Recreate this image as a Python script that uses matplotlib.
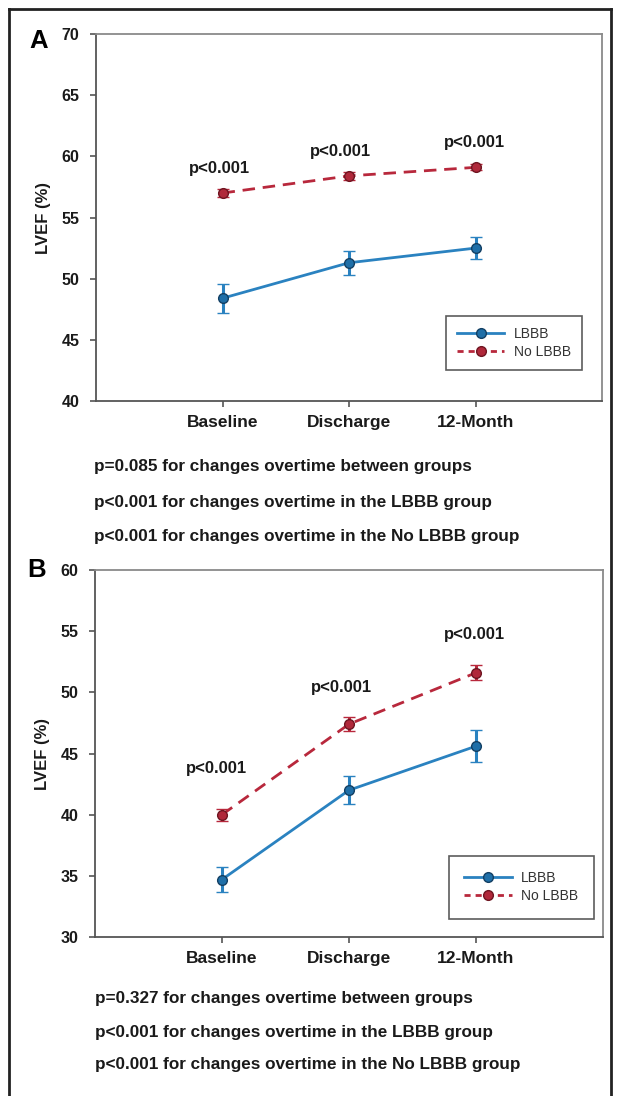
import matplotlib
matplotlib.use("Agg")
import matplotlib.pyplot as plt
from matplotlib.lines import Line2D

plt.rcParams['font.family'] = ['Liberation Sans', 'DejaVu Sans']

# ---------------- data ----------------
timepoints = ["Baseline", "Discharge", "12-Month"]
series_names = ["LBBB", "No LBBB"]

a_lbbb = [48.4, 51.3, 52.5]
a_lbbb_err = [1.2, 1.0, 0.9]
a_nolbbb = [57.0, 58.4, 59.1]
a_nolbbb_err = [0.3, 0.3, 0.25]
a_pvals = ["p<0.001", "p<0.001", "p<0.001"]
a_notes = ["p=0.085 for changes overtime between groups",
           "p<0.001 for changes overtime in the LBBB group",
           "p<0.001 for changes overtime in the No LBBB group"]

b_lbbb = [34.7, 42.0, 45.6]
b_lbbb_err = [1.0, 1.15, 1.3]
b_nolbbb = [40.0, 47.4, 51.6]
b_nolbbb_err = [0.5, 0.55, 0.6]
b_pvals = ["p<0.001", "p<0.001", "p<0.001"]
b_notes = ["p=0.327 for changes overtime between groups",
           "p<0.001 for changes overtime in the LBBB group",
           "p<0.001 for changes overtime in the No LBBB group"]

# ---------------- style ----------------
W, H = 617, 1096
fig = plt.figure(figsize=(W / 100, H / 100), dpi=100)

BLUE = "#2a82c0"
BLUE_FILL = "#1f6fa8"
BLUE_EDGE = "#123f63"
RED = "#b8283c"
RED_FILL = "#b0283a"
RED_EDGE = "#6e1420"


def px_axes(left, top, right, bottom):
    return fig.add_axes([left / W, 1 - bottom / H, (right - left) / W, (bottom - top) / H])


def panel(ax, lbbb, lbbb_err, nolbbb, nolbbb_err, pvals, ptext_x, ptext_y,
          ylim, yticks, legend_anchor, legend_borderpad):
    x = [1, 2, 3]
    ax.errorbar(x, lbbb, yerr=lbbb_err, color=BLUE, lw=2.0, marker='o', ms=7,
                mfc=BLUE_FILL, mec=BLUE_EDGE, mew=1.0, capsize=4, capthick=2.2,
                elinewidth=2.2, label=series_names[0], zorder=3)
    ax.errorbar(x, nolbbb, yerr=nolbbb_err, color=RED, lw=2.0, ls=(0, (4.5, 2.8)),
                marker='o', ms=7, mfc=RED_FILL, mec=RED_EDGE, mew=1.0, capsize=4,
                capthick=2.2, elinewidth=2.2, label=series_names[1], zorder=3)
    for tx, ty, t in zip(ptext_x, ptext_y, pvals):
        ax.text(tx, ty, t, ha='center', va='center', fontsize=12,
                fontweight='bold', color='#1a1a1a')
    ax.set_xlim(0, 4)
    ax.set_ylim(*ylim)
    ax.set_xticks(x)
    ax.set_xticklabels(timepoints, fontsize=12.5, fontweight='bold')
    ax.set_yticks(yticks)
    ax.set_yticklabels([str(v) for v in yticks], fontsize=11.5, fontweight='bold')
    ax.tick_params(axis='y', direction='out', length=4, width=1.2, pad=8, colors='#555555',
                   labelcolor='#1a1a1a')
    ax.tick_params(axis='x', direction='out', length=4, width=1.2, pad=6, colors='#555555',
                   labelcolor='#1a1a1a')
    for s in ['left', 'bottom']:
        ax.spines[s].set_color('#555555')
        ax.spines[s].set_linewidth(1.3)
    for s in ['right', 'top']:
        ax.spines[s].set_color('#8a8a8a')
        ax.spines[s].set_linewidth(1.3)
    ax.set_ylabel("LVEF (%)", fontsize=12, fontweight='bold', color='#1a1a1a')
    ax.yaxis.set_label_coords(-0.089, 0.5)
    handles = [Line2D([], [], color=BLUE, lw=2.0, marker='o', ms=7, mfc=BLUE_FILL,
                      mec=BLUE_EDGE, mew=1.0),
               Line2D([], [], color=RED, lw=2.0, ls=(0, (2.2, 1.8)), marker='o', ms=7,
                      mfc=RED_FILL, mec=RED_EDGE, mew=1.0)]
    leg = ax.legend(handles, series_names, loc='upper left', bbox_to_anchor=legend_anchor,
                    fontsize=10, frameon=True, fancybox=False, borderaxespad=0,
                    handlelength=3.4, handletextpad=0.7, labelspacing=0.3,
                    borderpad=legend_borderpad)
    leg.get_frame().set_edgecolor('#333333')
    leg.get_frame().set_linewidth(1.2)
    for t in leg.get_texts():
        t.set_color('#333333')


# Panel A
axA = px_axes(96, 34, 602, 401)
panel(axA, a_lbbb, a_lbbb_err, a_nolbbb, a_nolbbb_err, a_pvals,
      [0.98, 1.93, 2.99], [59.0, 60.4, 61.1], (40, 70), [40, 45, 50, 55, 60, 65, 70],
      (0.692, 0.232), 0.8)

# Panel B
axB = px_axes(95, 570, 603, 937)
panel(axB, b_lbbb, b_lbbb_err, b_nolbbb, b_nolbbb_err, b_pvals,
      [0.96, 1.94, 2.99], [43.8, 50.4, 54.7], (30, 60), [30, 35, 40, 45, 50, 55, 60],
      (0.697, 0.221), 1.1)

# Panel letters
fig.text(39 / W, 1 - 41 / H, "A", fontsize=18.5, fontweight='bold', ha='center', va='center')
fig.text(37 / W, 1 - 570 / H, "B", fontsize=18.5, fontweight='bold', ha='center', va='center')

# Footnotes
for yy, t in zip([467, 502, 536], a_notes):
    fig.text(94 / W, 1 - yy / H, t, fontsize=12.3, fontweight='bold', ha='left', va='center',
             color='#1a1a1a')
for yy, t in zip([998, 1032, 1065], b_notes):
    fig.text(95 / W, 1 - yy / H, t, fontsize=12.3, fontweight='bold', ha='left', va='center',
             color='#1a1a1a')

# Outer border (left, top, right)
bx0, by0, bx1 = 9 / W, 1 - 9 / H, 611 / W
fig.add_artist(Line2D([bx0, bx0], [0, by0], transform=fig.transFigure, color='#222222', lw=2.0))
fig.add_artist(Line2D([bx0, bx1], [by0, by0], transform=fig.transFigure, color='#222222', lw=2.0))
fig.add_artist(Line2D([bx1, bx1], [0, by0], transform=fig.transFigure, color='#222222', lw=2.0))

fig.savefig("out.png", dpi=100)
